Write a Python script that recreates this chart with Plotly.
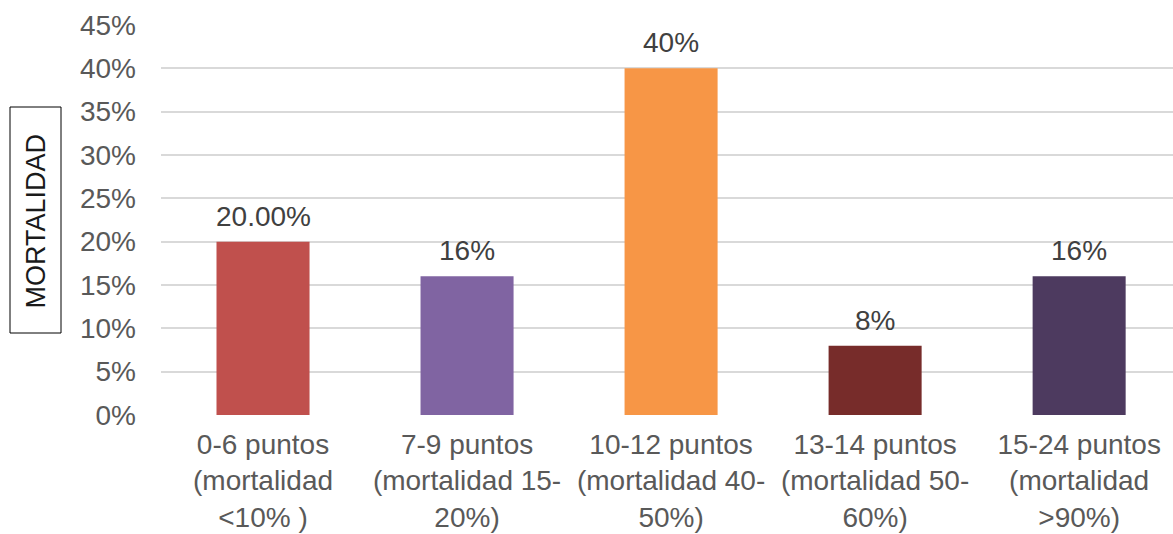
import plotly.graph_objects as go

# Categorías de puntuación y mortalidad observada
categorias = [
    "0-6 puntos<br>(mortalidad<br>&lt;10% )",
    "7-9 puntos<br>(mortalidad 15-<br>20%)",
    "10-12 puntos<br>(mortalidad 40-<br>50%)",
    "13-14 puntos<br>(mortalidad 50-<br>60%)",
    "15-24 puntos<br>(mortalidad<br>&gt;90%)",
]
mortalidad = [0.20, 0.16, 0.40, 0.08, 0.16]
formatos = ["{:.2%}", "{:.0%}", "{:.0%}", "{:.0%}", "{:.0%}"]
colores = ["#C0504D", "#8064A2", "#F79646", "#772C2A", "#4D3A5F"]
ticks_y = [0, 0.05, 0.10, 0.15, 0.20, 0.25, 0.30, 0.35, 0.40, 0.45]

W, H = 1173, 534
ML, MR, MT, MB = 161, 0, 25, 119
PW, PH = W - ML - MR, H - MT - MB

def px_x(p):
    return (p - ML) / PW

def px_y(p):
    return (H - MB - p) / PH

fig = go.Figure()
fig.add_trace(go.Bar(
    x=categorias,
    y=mortalidad,
    marker=dict(color=colores, line=dict(width=0)),
    width=0.456,
    hoverinfo="skip",
))

# Etiquetas de datos sobre cada barra
for cat, val, fmt in zip(categorias, mortalidad, formatos):
    fig.add_annotation(
        x=cat, y=val, xref="x", yref="y",
        text=fmt.format(val),
        showarrow=False, yanchor="bottom", yshift=8,
        font=dict(family="Liberation Sans, Arial", size=28, color="#404040"),
    )

# Título del eje Y dentro de un recuadro
fig.add_shape(
    type="rect", xref="paper", yref="paper",
    x0=px_x(10), x1=px_x(61), y0=px_y(333), y1=px_y(107),
    line=dict(color="#000000", width=1), fillcolor="rgba(0,0,0,0)",
)
fig.add_annotation(
    x=px_x(35.5), y=px_y(221), xref="paper", yref="paper",
    text="MORTALIDAD", textangle=-90, showarrow=False,
    xanchor="center", yanchor="middle",
    font=dict(family="Liberation Sans, Arial", size=27, color="#1a1a1a"),
)

fig.update_layout(
    width=W, height=H,
    margin=dict(l=ML, r=MR, t=MT, b=MB, pad=0, autoexpand=False),
    plot_bgcolor="white", paper_bgcolor="white",
    showlegend=False,
    bargap=0.5,
    font=dict(family="Liberation Sans, Arial", size=28, color="#595959"),
)
fig.update_xaxes(
    type="category",
    range=[-0.5, 4.46],
    showgrid=False, zeroline=False,
    showline=False, ticks="",
    tickfont=dict(size=28, color="#595959"),
    ticklabelstandoff=10,
    automargin=False,
    fixedrange=True,
)
fig.update_yaxes(
    range=[0, 0.45],
    tickvals=ticks_y,
    tickformat=".0%",
    showgrid=True, gridcolor="#D9D9D9", gridwidth=2,
    zeroline=False, showline=False, ticks="",
    tickfont=dict(size=28, color="#595959"),
    ticklabelstandoff=24,
    automargin=False,
    fixedrange=True,
)

fig.write_html("out.html", config={"displayModeBar": False})
